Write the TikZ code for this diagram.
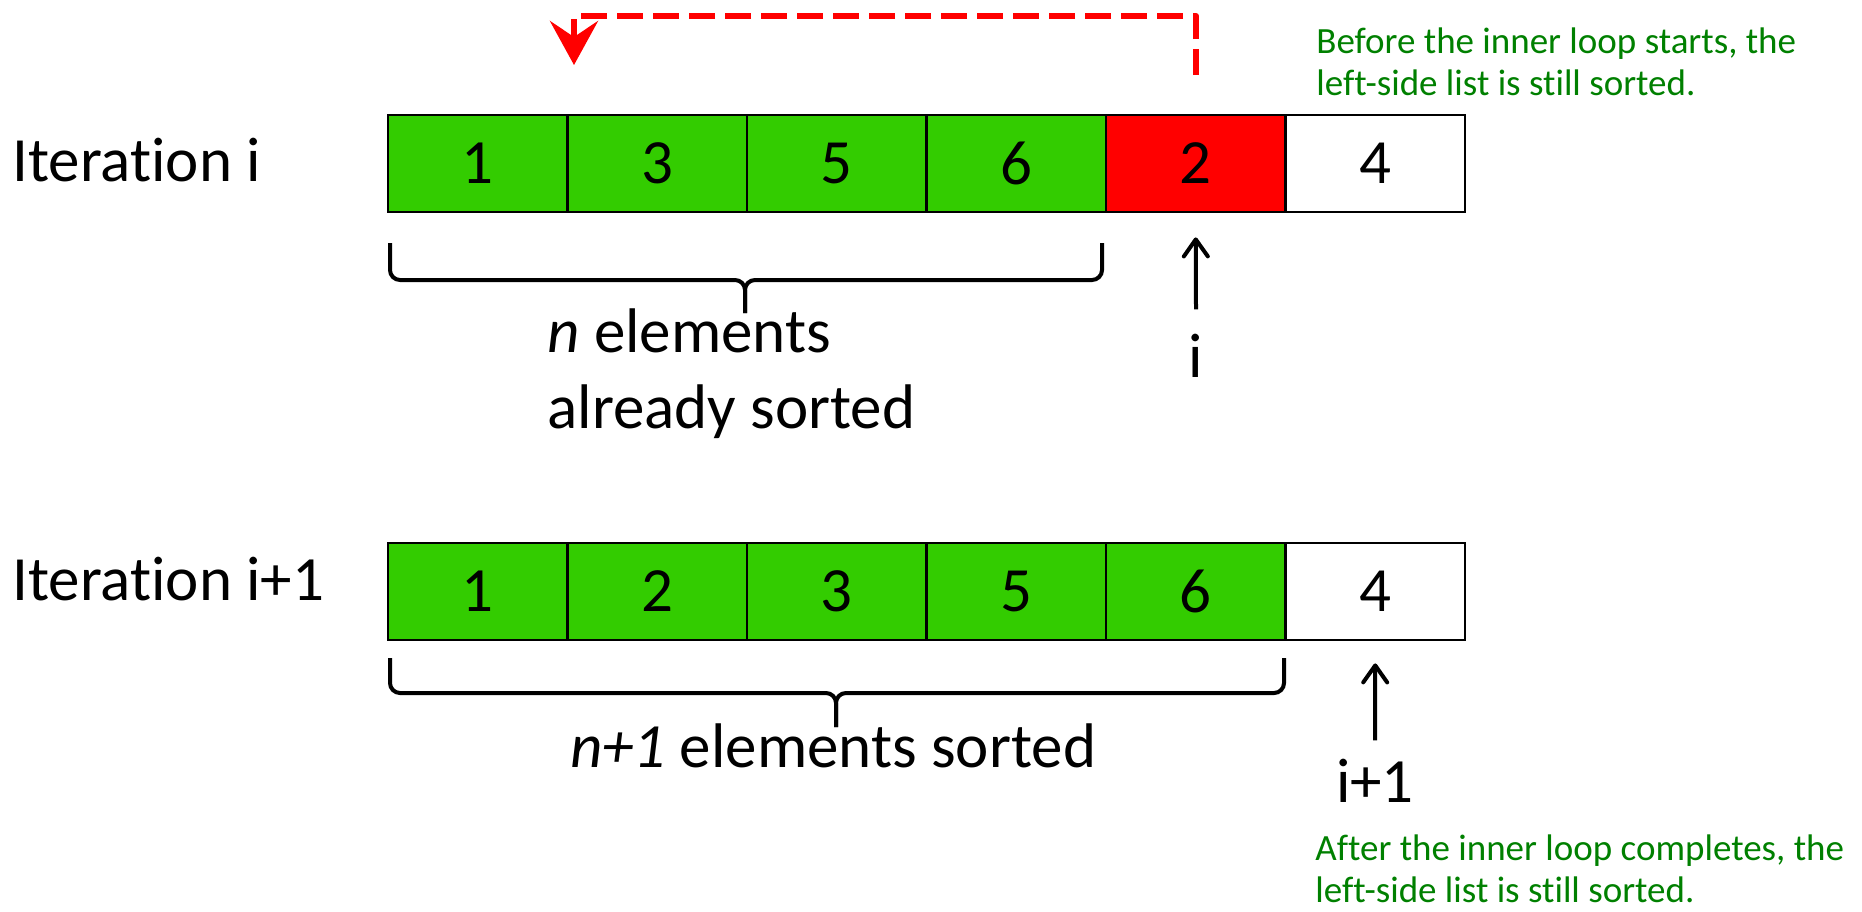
\documentclass[tikz,border=0pt]{standalone}
\usepackage{fontspec}
\setmainfont{Carlito}[Ligatures={NoCommon}]
\usetikzlibrary{arrows.meta,calc}
\definecolor{cellgreen}{RGB}{51,204,0}
\definecolor{cellred}{RGB}{255,0,0}
\definecolor{notegreen}{RGB}{0,128,0}
\begin{document}
\begin{tikzpicture}[x=0.5pt,y=-0.5pt,
  cell/.style={draw=black,line width=1.4pt,minimum width=89.75pt,minimum height=48.5pt,inner sep=0pt,font=\fontsize{31.5}{38}\selectfont},
  lbl/.style={font=\fontsize{31.5}{38}\selectfont,inner sep=0pt},
  note/.style={font=\fontsize{18.5}{21}\selectfont,text=notegreen,align=left,inner sep=0pt},
  bracepath/.style={line width=2pt,rounded corners=5pt},
  ptr/.style={line width=2pt,-{Straight Barb[length=8.5pt,width=12pt,round]}},
  loopback/.style={draw=red,line width=3pt,line join=round,dash pattern=on 13pt off 5pt,-{Stealth[length=22pt,width=24pt,inset=8pt]}}
]
\useasboundingbox (0,0) rectangle (1862,911);

% top row
\node[cell,fill=cellgreen] (a1) at (477.75,163.5) {1};
\node[cell,fill=cellgreen] (a2) at (657.25,163.5) {3};
\node[cell,fill=cellgreen] (a3) at (836.75,163.5) {5};
\node[cell,fill=cellgreen] (a4) at (1016.25,163.5) {6};
\node[cell,fill=cellred]   (a5) at (1195.75,163.5) {2};
\node[cell,fill=white]     (a6) at (1375.25,163.5) {4};

% bottom row
\node[cell,fill=cellgreen] (b1) at (477.75,591.5) {1};
\node[cell,fill=cellgreen] (b2) at (657.25,591.5) {2};
\node[cell,fill=cellgreen] (b3) at (836.75,591.5) {3};
\node[cell,fill=cellgreen] (b4) at (1016.25,591.5) {5};
\node[cell,fill=cellgreen] (b5) at (1195.75,591.5) {6};
\node[cell,fill=white]     (b6) at (1375.25,591.5) {4};

% row labels
\node[lbl,anchor=base west] (it1) at (12,181) {Iteration i};
\node[lbl,anchor=base west] (it2) at (12,600) {Iteration i+1};

% top brace
\draw[bracepath] (390,243) -- (390,280) -- (745,280) -- (745,313);
\draw[bracepath] (1102,243) -- (1102,280) -- (745,280) -- (745,313);
\node[lbl,anchor=base west] (t1) at (547,352) {\textit{n} elements};
\node[lbl,anchor=base west] (t2) at (547,428) {already sorted};

% bottom brace
\draw[bracepath] (390,658) -- (390,693) -- (836,693) -- (836,727);
\draw[bracepath] (1284,658) -- (1284,693) -- (836,693) -- (836,727);
\node[lbl,anchor=base] (t3) at (833,767) {\textit{n+1} elements sorted};

% pointers
\node[lbl,anchor=base] (ilbl) at (1196,377) {i};
\draw[ptr] ([yshift=12pt]ilbl.north) -- ([yshift=-12pt]a5.south);
\node[lbl,anchor=base] (iplbl) at (1375,802) {i+1};
\draw[ptr] ([yshift=9pt]iplbl.north) -- ([yshift=-11pt]b6.south);

% loop-back arrow
\coordinate (src) at (1196,75);
\coordinate (dst) at (574,65);
\draw[loopback] (src) -- (1196,16) -- (574,16) -- (dst);

% notes
\node[note,anchor=base west] (n1) at (1316,95) {Before the inner loop starts, the\\left-side list is still sorted.};
\node[note,anchor=base west] (n2) at (1315,902) {After the inner loop completes, the\\left-side list is still sorted.};
\end{tikzpicture}
\end{document}
